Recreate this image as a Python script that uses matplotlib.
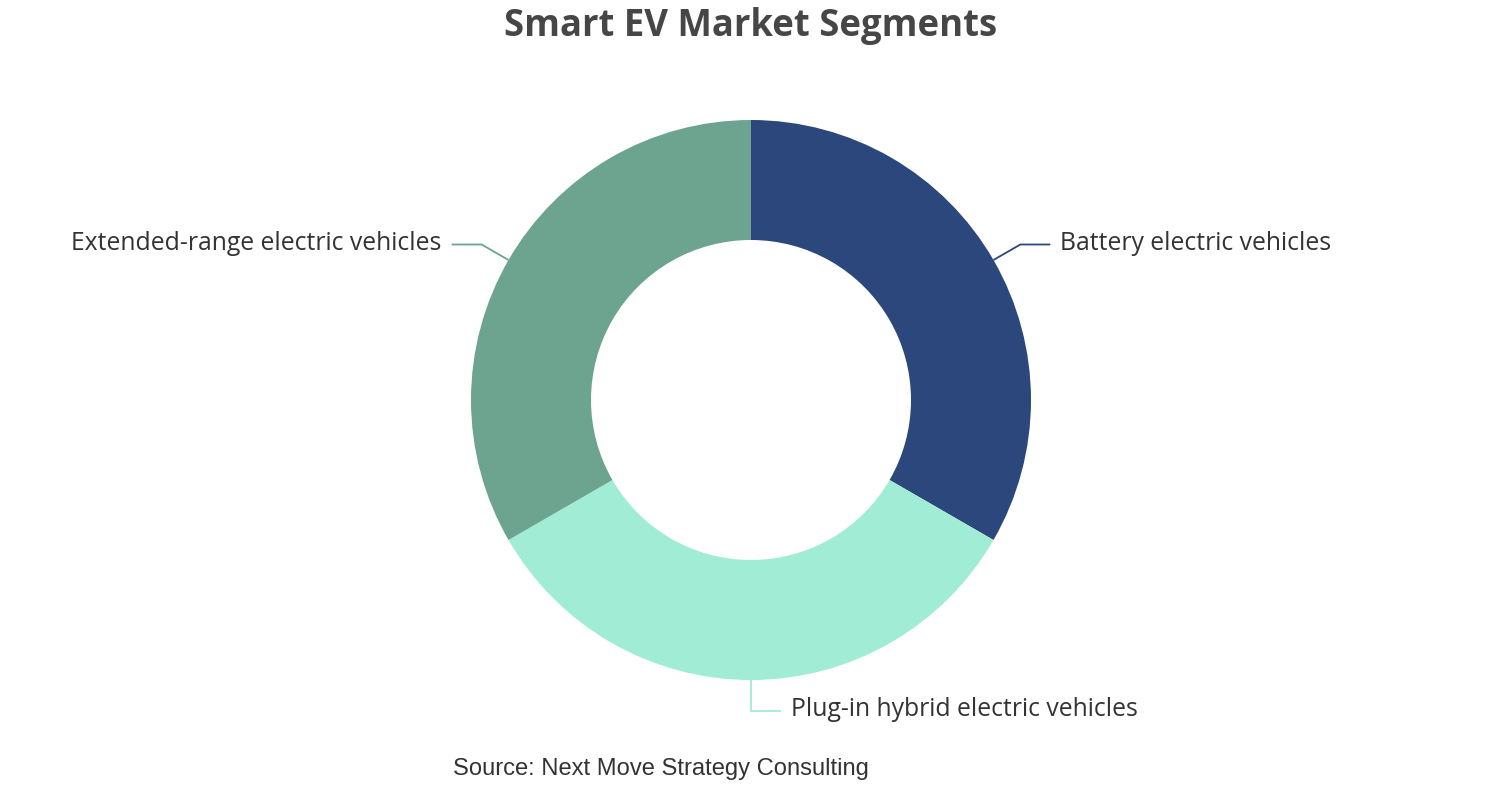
import numpy as np
import matplotlib.pyplot as plt

segments = ["Battery electric vehicles", "Plug-in hybrid electric vehicles",
            "Extended-range electric vehicles"]
shares = [33.3, 33.3, 33.3]
colors = ["#2b477c", "#a0ecd4", "#6da48f"]

W, H = 1502, 800
fig = plt.figure(figsize=(W / 100, H / 100), dpi=100)
ax = fig.add_axes([0, 0, 1, 1])
ax.set_xlim(0, W)
ax.set_ylim(0, H)
ax.set_aspect("equal")
ax.axis("off")

cx, cy = 751, 400
r_out, r_in = 280, 160
wedges, _ = ax.pie(shares, colors=colors, startangle=90, counterclock=False,
                   center=(cx, cy), radius=r_out,
                   wedgeprops=dict(width=r_out - r_in, linewidth=0))
ax.set_xlim(0, W)
ax.set_ylim(0, H)

for w, name, col in zip(wedges, segments, colors):
    mid = np.deg2rad((w.theta1 + w.theta2) / 2)
    x0, y0 = cx + r_out * np.cos(mid), cy + r_out * np.sin(mid)
    x1, y1 = cx + (r_out + 31) * np.cos(mid), cy + (r_out + 31) * np.sin(mid)
    side = 1 if np.cos(mid) >= -1e-6 else -1
    x2 = x1 + side * 30
    ax.plot([x0, x1, x2], [y0, y1, y1], color=col, lw=1.3, solid_capstyle="butt")
    ax.text(x2 + side * 10, y1 + 1, name, ha="left" if side > 0 else "right",
            va="center", fontsize=17.8, color="#333333", family="Open Sans")

fig.text(0.5, 1 - 26 / H, "Smart EV Market Segments", ha="center", va="center",
         fontsize=26.3, fontweight="bold", color="#464646", family="Open Sans")
fig.text(0.5 - 90 / W, 1 - 769 / H, "Source: Next Move Strategy Consulting",
         ha="center", va="center", fontsize=17.1, color="#333333",
         family="Liberation Sans")

fig.savefig("out.png", dpi=100, facecolor="white")
